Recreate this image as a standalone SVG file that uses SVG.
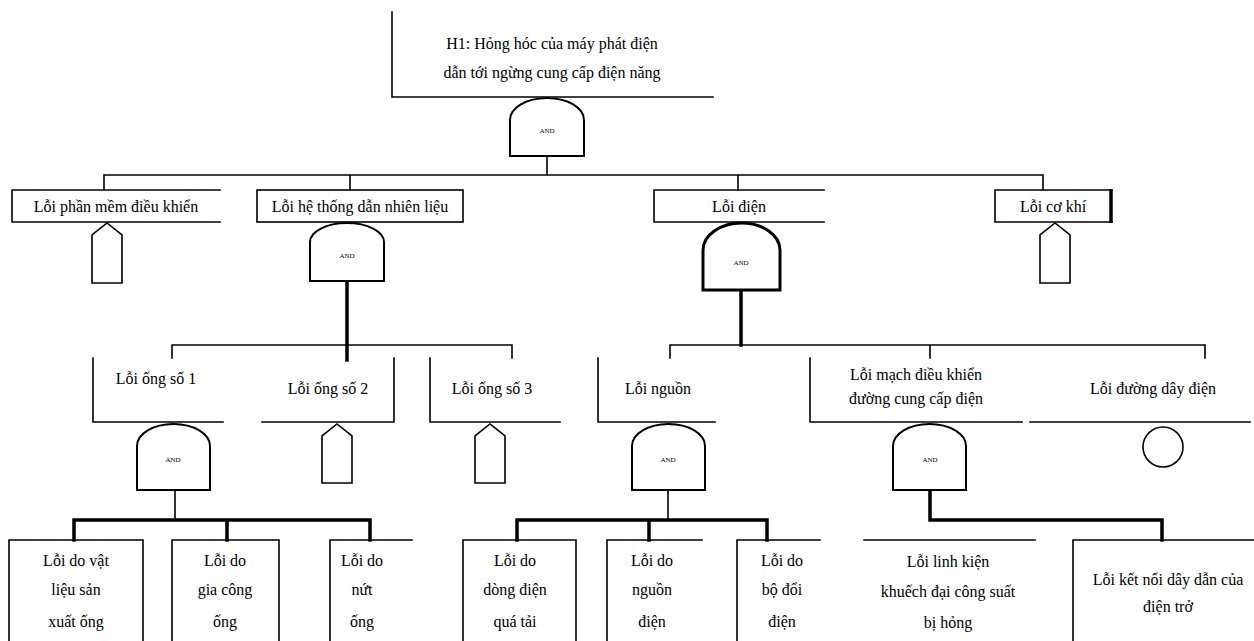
<svg xmlns="http://www.w3.org/2000/svg" width="1254" height="641" viewBox="0 0 1254 641">
  <style>
    .bg { fill: #ffffff; }
    .ln { fill: none; stroke: #000; stroke-width: 1.6; stroke-linecap: square; }
    .thk { fill: none; stroke: #000; stroke-width: 3.5; stroke-linecap: square; }
    .gate { fill: #fff; stroke: #000; stroke-width: 2; }
    .gate-b { fill: #fff; stroke: #000; stroke-width: 3; }
    .tx { font-family: "Liberation Serif", "Times New Roman", serif; font-size: 16px; fill: #000; text-anchor: middle; }
    .gt { font-family: "Liberation Serif", "Times New Roman", serif; font-size: 7px; fill: #000; text-anchor: middle; }
  </style>
  <rect class="bg" x="0" y="0" width="1254" height="641"/>

  <!-- connectors -->
  <g id="connectors">
    <!-- top gate to level 1 -->
    <path class="ln" d="M547,156 V175 M104,175 H1043 M104,175 V190 M350,175 V190 M738,175 V190 M1043,175 V190"/>
    <!-- gate under level-1 box 2 to its inputs -->
    <path class="thk" d="M347,281 V360"/>
    <path class="ln" d="M172,345 H512 M172,345 V358 M512,345 V358"/>
    <!-- gate under "Lỗi điện" to its inputs -->
    <path class="thk" d="M741,290 V345"/>
    <path class="ln" d="M670,345 H1205 M670,345 V358 M930,345 V358 M1205,345 V358"/>
    <!-- level 3 buses -->
    <path class="ln" d="M175,490 V520"/>
    <path class="thk" d="M74,520 H370 M74,520 V540 M227,520 V540 M370,520 V540"/>
    <path class="ln" d="M668,490 V520"/>
    <path class="thk" d="M517,520 H767 M517,520 V540 M649,520 V540 M767,520 V540"/>
    <path class="thk" d="M930,490 V520 H1162 M1162,520 V540"/>
  </g>

  <!-- top event -->
  <g id="top-event">
    <path class="ln" d="M392,12 V97 H713"/>
    <text class="tx" x="552" y="49">H1: Hỏng hóc của máy phát điện</text>
    <text class="tx" x="552" y="78">dẫn tới ngừng cung cấp điện năng</text>
  </g>
  <g id="gate-top">
    <path class="gate" d="M510,156 V120 A37,22 0 0 1 584,120 V156 Z"/>
    <text class="gt" x="547" y="133">AND</text>
  </g>

  <!-- level 1 -->
  <g id="n-phan-mem">
    <path class="ln" d="M220,190 H12 V222 H220"/>
    <text class="tx" x="116" y="212">Lỗi phần mềm điều khiển</text>
    <path class="ln" d="M92,283 V235 L107,223 L122,235 V283 Z"/>
  </g>
  <g id="n-he-thong">
    <rect class="ln" x="257" y="190" width="206" height="32"/>
    <text class="tx" x="360" y="212">Lỗi hệ thống dẫn nhiên liệu</text>
    <path class="gate" d="M310,281 V242 A37,19 0 0 1 384,242 V281 Z"/>
    <text class="gt" x="347" y="258">AND</text>
  </g>
  <g id="n-dien">
    <path class="ln" d="M824,190 H654 V222 H824"/>
    <text class="tx" x="739" y="212">Lỗi điện</text>
    <path class="gate-b" d="M703,290 V250 A38.5,27 0 0 1 780,250 V290 Z"/>
    <text class="gt" x="741" y="265">AND</text>
  </g>
  <g id="n-co-khi">
    <path class="ln" d="M1112,190 H995 V222 H1112"/>
    <path class="thk" d="M1111,191 V221"/>
    <text class="tx" x="1053" y="212">Lỗi cơ khí</text>
    <path class="ln" d="M1040,283 V235 L1055,223 L1070,235 V283 Z"/>
  </g>

  <!-- level 2 -->
  <g id="n-ong-1">
    <path class="ln" d="M93,358 V422 H223"/>
    <text class="tx" x="156" y="384">Lỗi ống số 1</text>
    <path class="gate" d="M137,490 V446 A36.5,22 0 0 1 210,446 V490 Z"/>
    <text class="gt" x="173" y="462">AND</text>
  </g>
  <g id="n-ong-2">
    <path class="ln" d="M262,422 H394 V358"/>
    <text class="tx" x="328" y="394">Lỗi ống số 2</text>
    <path class="ln" d="M322,483 V436 L337,424 L352,436 V483 Z"/>
  </g>
  <g id="n-ong-3">
    <path class="ln" d="M430,358 V422 H560"/>
    <text class="tx" x="492" y="394">Lỗi ống số 3</text>
    <path class="ln" d="M475,483 V436 L490,424 L505,436 V483 Z"/>
  </g>
  <g id="n-nguon">
    <path class="ln" d="M598,358 V422 H715"/>
    <text class="tx" x="658" y="394">Lỗi nguồn</text>
    <path class="gate" d="M632,490 V446 A36.5,22 0 0 1 705,446 V490 Z"/>
    <text class="gt" x="668" y="462">AND</text>
  </g>
  <g id="n-mach">
    <path class="ln" d="M810,358 V422 H1022"/>
    <text class="tx" x="916" y="380">Lỗi mạch điều khiển</text>
    <text class="tx" x="916" y="404">đường cung cấp điện</text>
    <path class="gate" d="M893,490 V446 A36.5,22 0 0 1 966,446 V490 Z"/>
    <text class="gt" x="930" y="462">AND</text>
  </g>
  <g id="n-duong-day">
    <path class="ln" d="M1030,422 H1250"/>
    <text class="tx" x="1153" y="394">Lỗi đường dây điện</text>
    <circle class="ln" cx="1163" cy="447" r="20"/>
  </g>

  <!-- level 3 -->
  <g id="e1">
    <path class="ln" d="M9,641 V540 H143 V641"/>
    <text class="tx" x="76" y="566">Lỗi do vật</text>
    <text class="tx" x="76" y="595">liệu sản</text>
    <text class="tx" x="76" y="627">xuất ống</text>
  </g>
  <g id="e2">
    <path class="ln" d="M172,641 V540 H279 V641"/>
    <text class="tx" x="225" y="566">Lỗi do</text>
    <text class="tx" x="225" y="595">gia công</text>
    <text class="tx" x="225" y="627">ống</text>
  </g>
  <g id="e3">
    <path class="ln" d="M330,641 V540 H412"/>
    <text class="tx" x="362" y="566">Lỗi do</text>
    <text class="tx" x="362" y="595">nứt</text>
    <text class="tx" x="362" y="627">ống</text>
  </g>
  <g id="e4">
    <path class="ln" d="M463,641 V540 H576 V641"/>
    <text class="tx" x="515" y="566">Lỗi do</text>
    <text class="tx" x="515" y="595">dòng điện</text>
    <text class="tx" x="515" y="627">quá tải</text>
  </g>
  <g id="e5">
    <path class="ln" d="M607,641 V540 H702"/>
    <text class="tx" x="652" y="566">Lỗi do</text>
    <text class="tx" x="652" y="595">nguồn</text>
    <text class="tx" x="652" y="627">điện</text>
  </g>
  <g id="e6">
    <path class="ln" d="M737,641 V540 H820"/>
    <text class="tx" x="782" y="566">Lỗi do</text>
    <text class="tx" x="782" y="595">bộ đổi</text>
    <text class="tx" x="782" y="627">điện</text>
  </g>
  <g id="e7">
    <path class="ln" d="M864,540 H1035"/>
    <text class="tx" x="948" y="567">Lỗi linh kiện</text>
    <text class="tx" x="948" y="597">khuếch đại công suất</text>
    <text class="tx" x="948" y="628">bị hỏng</text>
  </g>
  <g id="e8">
    <path class="ln" d="M1073,641 V540 H1254"/>
    <text class="tx" x="1168" y="585">Lỗi kết nối dây dẫn của</text>
    <text class="tx" x="1168" y="612">điện trở</text>
  </g>
</svg>
